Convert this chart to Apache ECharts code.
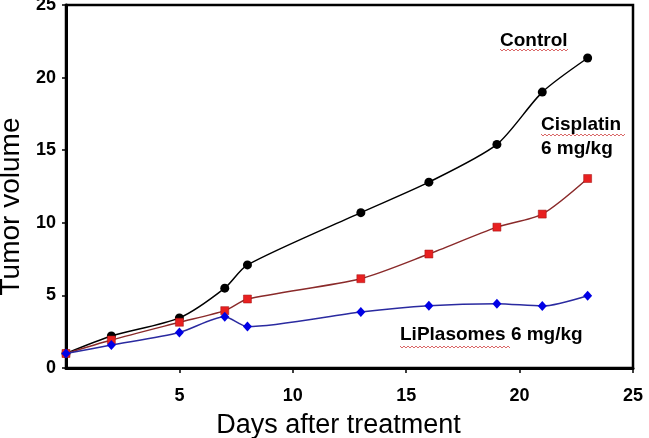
<!DOCTYPE html>
<html><head><meta charset="utf-8">
<script src="https://cdn.jsdelivr.net/npm/echarts@6/dist/echarts.min.js"></script>
<style>html,body{margin:0;padding:0;background:#fff}#c{width:649px;height:438px}</style>
</head><body><div id="c"></div>
<script>
var days = [0, 2, 5, 7, 8, 13, 16, 19, 21, 23];
var control = [1.0, 2.2, 3.45, 5.5, 7.1, 10.7, 12.8, 15.4, 19.0, 21.35];
var cisplatin = [1.0, 1.93, 3.15, 3.95, 4.75, 6.15, 7.85, 9.7, 10.6, 13.05];
var liplasomes = [1.0, 1.58, 2.45, 3.53, 2.85, 3.86, 4.29, 4.43, 4.27, 4.98];
var xTicks = [0, 5, 10, 15, 20, 25];
var yTicks = [0, 5, 10, 15, 20, 25];

function pairs(vals){ return days.map(function(d,i){ return [d, vals[i]]; }); }
function wavy(x0, x1, y){
  var pts = [], up = true;
  for (var x = x0; x <= x1; x += 2){ pts.push([x, y + (up ? -1 : 1)]); up = !up; }
  return {type:'polyline', shape:{points:pts}, style:{stroke:'#d04040', lineWidth:0.8, fill:null}, z:10};
}

var chart = echarts.init(document.getElementById('c'), null, {renderer:'canvas'});
var lblFont = {fontFamily:'Liberation Sans, Arial, sans-serif', fontWeight:'bold', fontSize:19, fill:'#000'};
chart.setOption({
  animation:false,
  grid:{left:66, right:16, top:5, bottom:70, containLabel:false, outerBoundsMode:'none',
    show:true, borderColor:'#000', borderWidth:2.5, backgroundColor:'#fff'},
  xAxis:{type:'value', min:xTicks[0], max:xTicks[xTicks.length-1], interval:5,
    name:'Days after treatment', nameLocation:'middle', nameGap:44,
    nameTextStyle:{fontFamily:'Liberation Sans, Arial, sans-serif', fontSize:27, color:'#000', padding:[0,22,0,0]},
    axisLine:{lineStyle:{color:'#000', width:3}},
    axisTick:{length:5, lineStyle:{color:'#000', width:1.5}},
    axisLabel:{showMinLabel:false, margin:19, fontFamily:'Liberation Sans, Arial, sans-serif', fontWeight:'bold', fontSize:18, color:'#000'},
    splitLine:{show:false}},
  yAxis:{type:'value', min:yTicks[0], max:yTicks[yTicks.length-1], interval:5,
    name:'Tumor volume', nameLocation:'middle', nameGap:40,
    nameTextStyle:{fontFamily:'Liberation Sans, Arial, sans-serif', fontSize:28, color:'#000', padding:[0,40,0,0]},
    axisLine:{lineStyle:{color:'#000', width:3}},
    axisTick:{length:4, lineStyle:{color:'#000', width:1.5}},
    axisLabel:{margin:10, fontFamily:'Liberation Sans, Arial, sans-serif', fontWeight:'bold', fontSize:18, color:'#000'},
    splitLine:{show:false}},
  series:[
    {name:'Control', type:'line', data:pairs(control), smooth:0.25, symbol:'circle', symbolSize:9,
      lineStyle:{color:'#000', width:1.5}, itemStyle:{color:'#000'}, z:3},
    {name:'Cisplatin', type:'line', data:pairs(cisplatin), smooth:0.25, symbol:'rect', symbolSize:8,
      lineStyle:{color:'#8a2a2a', width:1.5}, itemStyle:{color:'#e82020', borderColor:'#a01010', borderWidth:0.5}, z:4},
    {name:'LiPlasomes', type:'line', data:pairs(liplasomes), smooth:0.25, symbol:'diamond', symbolSize:[9,10],
      lineStyle:{color:'#2a2aa0', width:1.5}, itemStyle:{color:'#0000e6'}, z:5}
  ],
  graphic:[
    {type:'text', left:500, top:31, style:Object.assign({text:'Control'}, lblFont), z:10},
    {type:'text', left:541, top:115, style:Object.assign({text:'Cisplatin'}, lblFont), z:10},
    {type:'text', left:541, top:139, style:Object.assign({text:'6 mg/kg'}, lblFont), z:10},
    {type:'text', left:400, top:325, style:Object.assign({text:'LiPlasomes 6 mg/kg'}, lblFont), z:10},
    wavy(500, 569, 50), wavy(541, 625, 135), wavy(400, 510, 347)
  ]
});
</script></body></html>
